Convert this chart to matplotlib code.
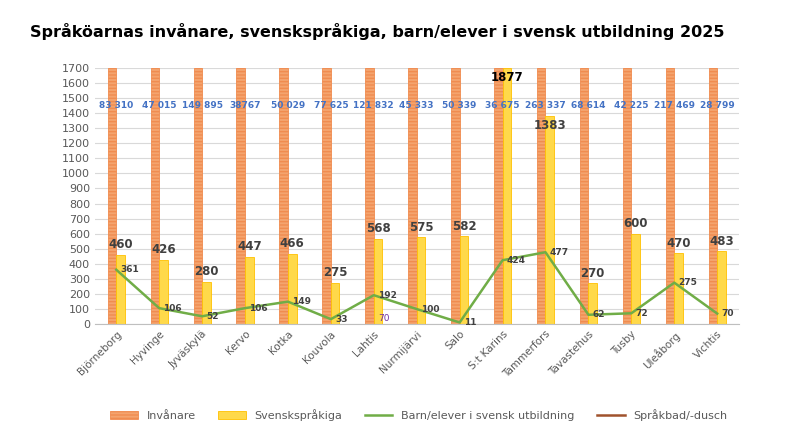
import matplotlib.pyplot as plt
import numpy as np

cities = ["Björneborg", "Hyvinge", "Jyväskylä", "Kervo", "Kotka", "Kouvola", "Lahtis",
          "Nurmijärvi", "Salo", "S:t Karins", "Tammerfors", "Tavastehus", "Tusby",
          "Uleåborg", "Vichtis"]
invanare = [83310, 47015, 149895, 38767, 50029, 77625, 121832, 45333, 50339, 36675,
            263337, 68614, 42225, 217469, 28799]
invanare_labels = ["83 310", "47 015", "149 895", "38767", "50 029", "77 625", "121 832",
                   "45 333", "50 339", "36 675", "263 337", "68 614", "42 225", "217 469", "28 799"]
svensk = [460, 426, 280, 447, 466, 275, 568, 575, 582, 1877, 1383, 270, 600, 470, 483]
barn = [361, 106, 52, 106, 149, 33, 192, 100, 11, 424, 477, 62, 72, 275, 70]
sprakbad = [np.nan] * 6 + [70] + [np.nan] * 8

YMAX = 1700
x = np.arange(len(cities))
w = 0.2

fig, ax = plt.subplots(figsize=(7.9, 4.44), dpi=100)
fig.subplots_adjust(left=0.12, right=0.935, top=0.847, bottom=0.27)

b1 = ax.bar(x - w / 2, np.minimum(invanare, YMAX), w, color="#F4A46E", edgecolor="#F08C50",
            linewidth=0.6, hatch="-----", label="Invånare", zorder=2)
b2 = ax.bar(x + w / 2, np.minimum(svensk, YMAX), w, color="#FFD94A", edgecolor="#FFC000",
            linewidth=0.6, label="Svenskspråkiga", zorder=2)
l1, = ax.plot(x, barn, color="#70AD47", lw=1.8, label="Barn/elever i svensk utbildning", zorder=3)
l2, = ax.plot(x, sprakbad, color="#A0522D", lw=1.8, label="Språkbad/-dusch", zorder=3)

for i in x:
    ax.text(i, 1450, invanare_labels[i], color="#4472C4", fontsize=6.5, fontweight="bold",
            ha="center", va="center", zorder=4)
    if svensk[i] >= YMAX:
        ax.text(i + w / 2, YMAX - 20, str(svensk[i]), color="black", fontsize=8.5,
                fontweight="bold", ha="center", va="top", zorder=4)
    elif svensk[i] > 1000:
        ax.text(i + w / 2, svensk[i] - 20, str(svensk[i]), color="#404040", fontsize=8.5,
                fontweight="bold", ha="center", va="top", zorder=4)
    else:
        ax.text(i + w / 2, svensk[i] + 25, str(svensk[i]), color="#404040", fontsize=8.5,
                fontweight="bold", ha="center", va="bottom", zorder=4)
    ax.text(i + 0.1, barn[i], str(barn[i]), color="#404040", fontsize=6.5,
            fontweight="bold", ha="left", va="center", zorder=4)
for i, v in enumerate(sprakbad):
    if not np.isnan(v):
        ax.text(i + 0.1, v - 30, str(int(v)), color="#7030A0", fontsize=6.5,
                ha="left", va="center", zorder=4)

ax.set_ylim(0, YMAX)
ax.set_xlim(-0.5, len(cities) - 0.5)
ax.set_yticks(range(0, 1701, 100))
ax.tick_params(axis="y", labelsize=8, colors="#595959", length=0)
ax.tick_params(axis="x", labelsize=7.5, colors="#595959", length=0)
ax.set_xticks(x)
ax.set_xticklabels(cities, rotation=45, ha="right", rotation_mode="anchor")
ax.grid(axis="y", color="#D9D9D9", lw=0.8, zorder=0)
for s in ["top", "right", "left"]:
    ax.spines[s].set_visible(False)
ax.spines["bottom"].set_color("#BFBFBF")

fig.text(0.038, 0.93, "Språköarnas invånare, svenskspråkiga, barn/elever i svensk utbildning 2025",
         fontsize=11.5, fontweight="bold", ha="left", va="center")
fig.legend([b1, b2, l1, l2], [h.get_label() for h in [b1, b2, l1, l2]],
           loc="lower center", ncol=4, frameon=False, fontsize=8,
           bbox_to_anchor=(0.53, 0.03), handlelength=2.5, labelcolor="#595959")

fig.savefig("out.png", dpi=100)
